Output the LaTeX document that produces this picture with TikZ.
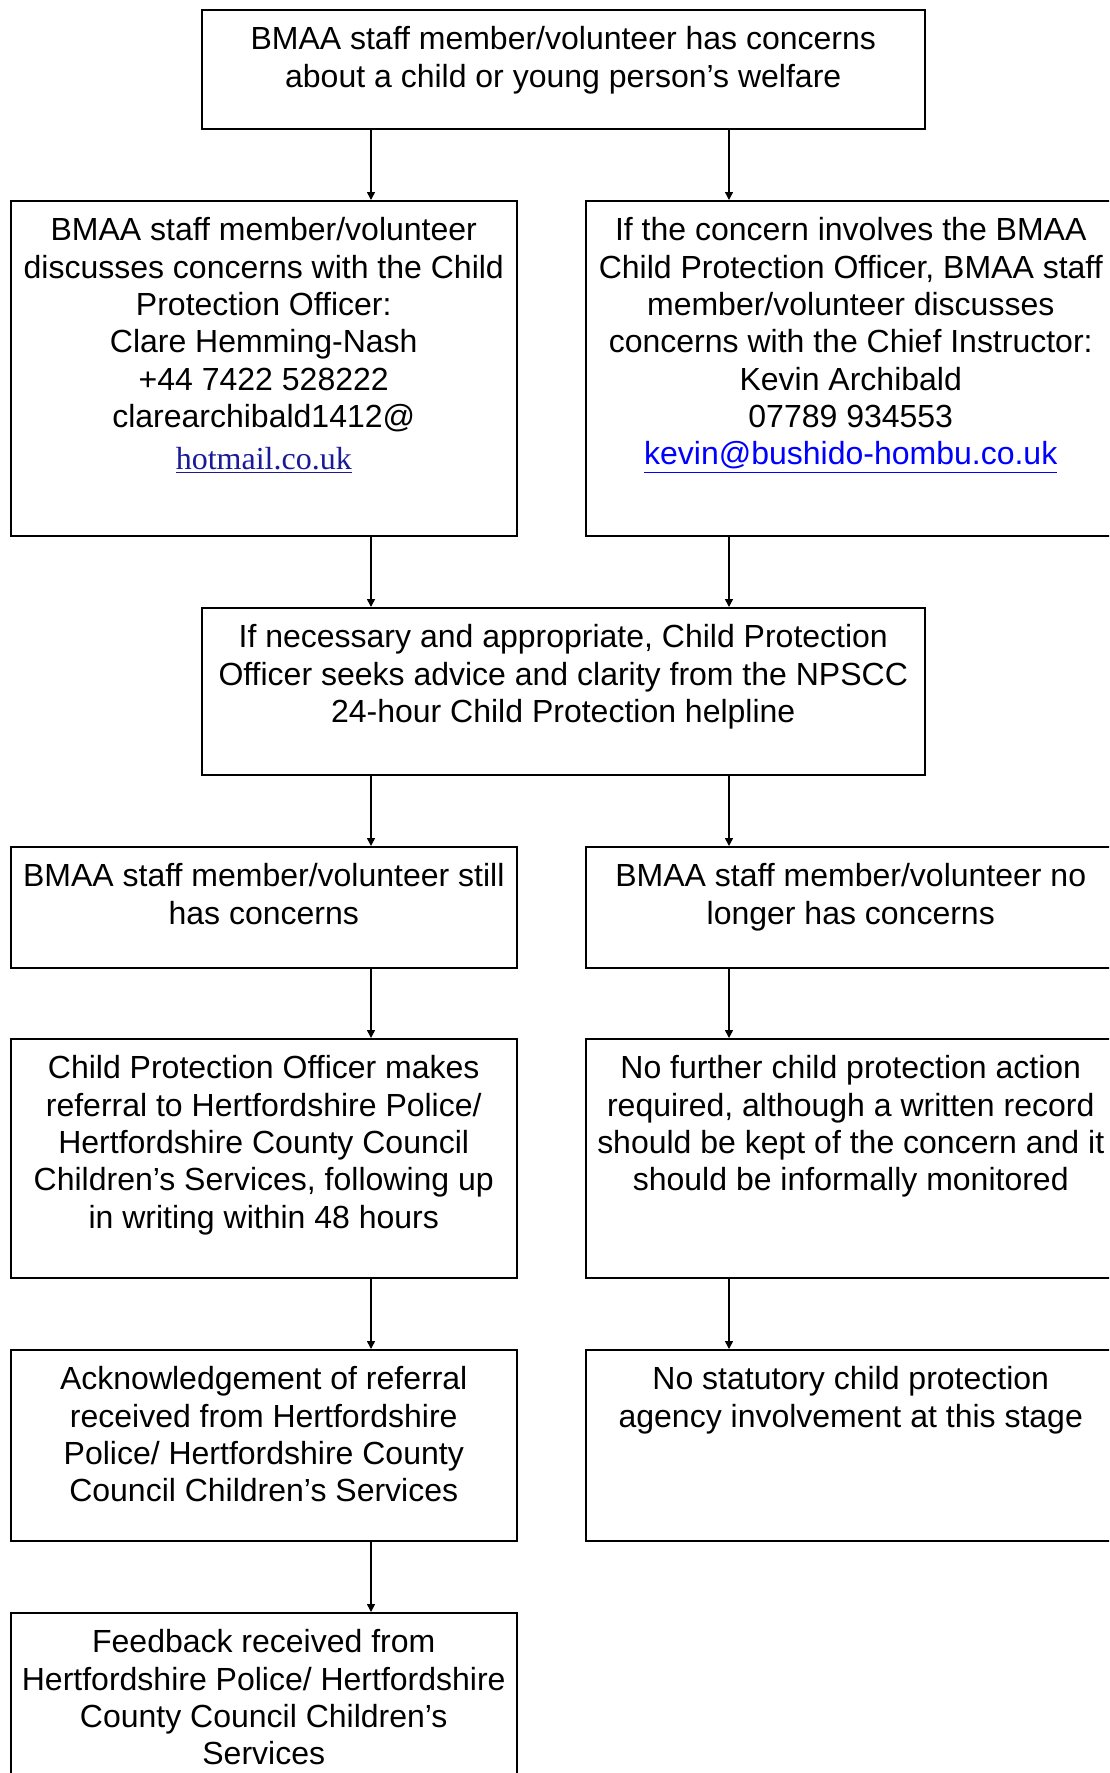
\documentclass[tikz,border=0pt]{standalone}
\usepackage{fontspec}
\setmainfont{Liberation Sans}
\newfontfamily\mailfont{Liberation Serif}
\usepackage{xcolor}
\usepackage{tikz}
\usetikzlibrary{arrows.meta,calc}
\definecolor{linkblue}{HTML}{0000FF}
\definecolor{mailnavy}{HTML}{1A1A99}
% box body: height, width, lines (top aligned)
\newcommand{\boxbody}[3]{\parbox[c][#1][t]{#2}{\centering\rule{0pt}{20.1pt}#3}}

\begin{document}
\begin{tikzpicture}[
    x=0.5pt, y=-0.5pt,
    every node/.style={font=\fontsize{16}{18.65}\selectfont},
    flowbox/.style={draw,line width=0.75pt,inner sep=0pt,anchor=north west},
    flow/.style={line width=0.75pt,-{Triangle[length=4pt,width=4pt]}}
]
\useasboundingbox (0,0) rectangle (1109,1773);
\clip (0,0) rectangle (1109,1773);

\coordinate (lx) at (371,0);
\coordinate (rx) at (729,0);

\node[flowbox] (top) at (201,9) {\boxbody{59.5pt}{361.5pt}{BMAA staff member/volunteer has concerns\\
    about a child or young person’s welfare}};

\node[flowbox] (cpo) at (10,200) {\boxbody{167.5pt}{253pt}{BMAA staff member/volunteer\\
    discusses concerns with the Child\\ Protection Officer:\\ Clare Hemming-Nash\\
    +44 7422 528222\\ clarearchibald1412@\\[2.3pt]
    {\mailfont\fontsize{16}{18.65}\selectfont\color{mailnavy}\underline{hotmail.co.uk}}}};
\node[flowbox] (chief) at (585,200) {\boxbody{167.5pt}{265pt}{If the concern involves the BMAA\\
    Child Protection Officer, BMAA staff\\ member/volunteer discusses\\
    concerns with the Chief Instructor:\\ Kevin Archibald\\ 07789 934553\\
    {\color{linkblue}\underline{kevin@bushido-hombu.co.uk}}}};

\node[flowbox] (npscc) at (201,607) {\boxbody{83.5pt}{361.5pt}{If necessary and appropriate, Child Protection\\
    Officer seeks advice and clarity from the NPSCC\\ 24-hour Child Protection helpline}};

\node[flowbox] (still) at (10,846) {\boxbody{60.5pt}{253pt}{BMAA staff member/volunteer still\\ has concerns}};
\node[flowbox] (nolonger) at (585,846) {\boxbody{60.5pt}{265pt}{BMAA staff member/volunteer no\\ longer has concerns}};

\node[flowbox] (referral) at (10,1038) {\boxbody{119.5pt}{253pt}{Child Protection Officer makes\\
    referral to Hertfordshire Police/\\ Hertfordshire County Council\\
    Children’s Services, following up\\ in writing within 48 hours}};
\node[flowbox] (noaction) at (585,1038) {\boxbody{119.5pt}{265pt}{No further child protection action\\
    required, although a written record\\ should be kept of the concern and it\\
    should be informally monitored}};

\node[flowbox] (ack) at (10,1349) {\boxbody{95.5pt}{253pt}{Acknowledgement of referral\\
    received from Hertfordshire\\ Police/ Hertfordshire County\\ Council Children’s Services}};
\node[flowbox] (nostat) at (585,1349) {\boxbody{95.5pt}{265pt}{No statutory child protection\\
    agency involvement at this stage}};

\node[flowbox] (feedback) at (10,1612) {\boxbody{110pt}{253pt}{Feedback received from\\
    Hertfordshire Police/ Hertfordshire\\ County Council Children’s\\ Services}};

% connectors
\draw[flow] (top.south -| lx) -- (cpo.north -| lx);
\draw[flow] (top.south -| rx) -- (chief.north -| rx);
\draw[flow] (cpo.south -| lx) -- (npscc.north -| lx);
\draw[flow] (chief.south -| rx) -- (npscc.north -| rx);
\draw[flow] (npscc.south -| lx) -- (still.north -| lx);
\draw[flow] (npscc.south -| rx) -- (nolonger.north -| rx);
\draw[flow] (still.south -| lx) -- (referral.north -| lx);
\draw[flow] (nolonger.south -| rx) -- (noaction.north -| rx);
\draw[flow] (referral.south -| lx) -- (ack.north -| lx);
\draw[flow] (noaction.south -| rx) -- (nostat.north -| rx);
\draw[flow] (ack.south -| lx) -- (feedback.north -| lx);
\end{tikzpicture}
\end{document}
